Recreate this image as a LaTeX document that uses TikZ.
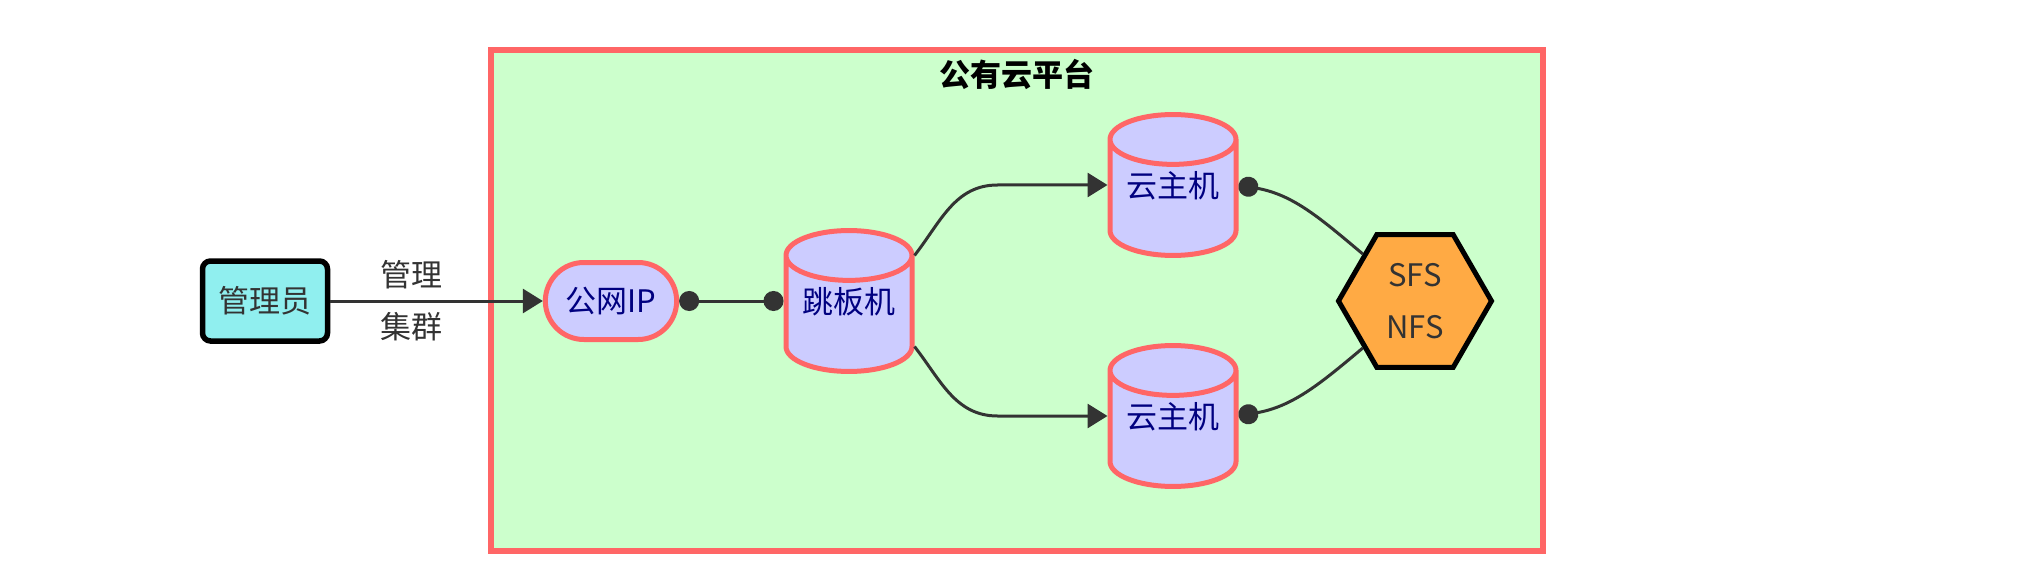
\documentclass[tikz,border=0pt]{standalone}
\usepackage{fontspec}
\setmainfont{Noto Sans CJK SC}
\usetikzlibrary{arrows.meta, shapes.geometric, shapes.misc, calc}
\definecolor{cloudgreen}{HTML}{CCFFCC}
\definecolor{salmonline}{HTML}{FF6666}
\definecolor{lavender}{HTML}{CCCCFF}
\definecolor{aquafill}{HTML}{90EFEF}
\definecolor{nfsorange}{HTML}{FFAA44}
\definecolor{edgegray}{HTML}{333333}
\definecolor{navytext}{HTML}{000080}

\begin{document}
\begin{tikzpicture}[x=1pt, y=1pt,
  basefont/.style={font=\fontsize{31}{52}\selectfont},
  server/.style={basefont, draw=salmonline, line width=5pt, fill=lavender, text=navytext},
  machine/.style={server, cylinder, shape border rotate=90, aspect=0.5, anchor=shape center,
                  text height=27pt, text depth=38pt, minimum width=126pt, minimum height=128pt},
  flow/.style={draw=edgegray, line width=3pt},
  flowarrow/.style={flow, -{Triangle[length=20pt, width=24pt]}},
  flowdots/.style={flow, {Circle[length=20pt]}-{Circle[length=20pt]}},
  flowdot/.style={flow, {Circle[length=20pt]}-}
]
  \useasboundingbox (0,0) rectangle (2032,574);
  % --- cloud platform frame ---
  \draw[draw=salmonline, fill=cloudgreen, line width=6pt] (491,23) rectangle (1543,524);
  \node[basefont, font=\fontsize{31}{52}\selectfont\bfseries] (title) at (1017,500) {公有云平台};
  % --- nodes ---
  \node[basefont, draw=black, line width=5.5pt, fill=aquafill, rounded corners=8pt,
        minimum width=125pt, minimum height=80pt, text=edgegray] (admin) at (265,273) {管理员};
  \node[server, rounded rectangle, minimum width=138pt, minimum height=77pt] (eip) at (611,273) {公网IP};
  \node[machine] (jump) at (849,273) {跳板机};
  \foreach \vm/\y in {vm1/389, vm2/158} {
    \node[machine] (\vm) at (1173,\y) {云主机};
  }
  \node[basefont, regular polygon, regular polygon sides=6, draw=black, line width=5pt,
        fill=nfsorange, text=edgegray, minimum size=153pt, align=center] (nfs) at (1415,273) {SFS\\NFS};
  % --- connectors ---
  \draw[flowarrow] (admin.east) -- node[pos=0.38, basefont, text=edgegray, align=center] (lbl) {管理\\集群} (eip.west);
  \draw[flowdots] (eip.east) -- (jump.180 |- jump.shape center);
  \foreach \vm/\a/\o in {vm1/after top/52, vm2/before bottom/-52} {
    \draw[flowarrow] (jump.\a) to[out=\o, in=180] ($(\vm.180 |- \vm.shape center)+(-110,0)$) -- (\vm.180 |- \vm.shape center);
  }
  \foreach \vm/\o/\i/\a in {vm1/-10/140/138, vm2/10/-140/-138} {
    \draw[flowdot] (\vm.0 |- \vm.shape center) to[out=\o, in=\i] (nfs.\a);
  }
\end{tikzpicture}
\end{document}
